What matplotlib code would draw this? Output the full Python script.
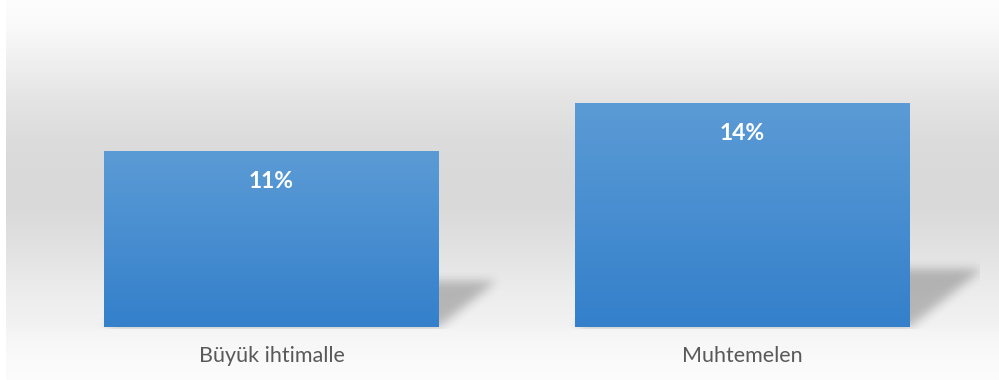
import numpy as np
import matplotlib.pyplot as plt
from matplotlib.colors import LinearSegmentedColormap

categories = ["Büyük ihtimalle", "Muhtemelen"]
values = [11, 14]

plt.rcParams['font.family'] = ['Lato', 'DejaVu Sans']

W, H = 999, 380
fig = plt.figure(figsize=(W / 100, H / 100), dpi=100)
fig.patch.set_facecolor('white')

# background: grey band fading to white top and bottom (pixel coords, origin bottom)
bg = fig.add_axes([0, 0, 1, 1], zorder=0)
bg.set_xlim(0, W)
bg.set_ylim(0, H)
bg.axis('off')
stops_y = np.array([0, 25, 60, 100, 140, 180, 210, 250, 290, 326, 332, 360, 380])
stops_v = np.array([253, 250, 240, 228, 220, 217, 218, 226, 236, 242, 245, 250, 252]) / 255
rows = np.interp(np.arange(H) + 0.5, stops_y, stops_v)[::-1]
grad = np.repeat(rows[:, None], 2, axis=1)
bg.imshow(np.dstack([grad, grad, grad]), extent=[6, W, 0, H], origin='lower',
          aspect='auto', interpolation='bilinear')

# main chart axes
base_px = 327
ax = fig.add_axes([0, (H - base_px) / H, 1, base_px / H], zorder=2)
ax.patch.set_alpha(0)
ax.set_ylim(0, base_px / 16)
x = np.arange(len(categories))
ax.set_xlim(-0.5764, 1.5446)
bars = ax.bar(x, values, width=0.711, color='none', edgecolor='none')

bar_cmap = LinearSegmentedColormap.from_list('barblue', ['#5b9bd5', '#3480cb'])
for b in bars:
    x0, y0 = b.get_x(), b.get_y()
    img = ax.imshow(np.linspace(0, 1, 100)[:, None], cmap=bar_cmap, aspect='auto',
                    extent=[x0, x0 + b.get_width(), y0, y0 + b.get_height()],
                    origin='upper', zorder=3)
    img.set_clip_path(b)

for xi, v in zip(x, values):
    ax.annotate(f"{v}%", (xi, v), xytext=(0, -22), textcoords='offset points',
                ha='center', va='center', color='white', fontsize=16.5,
                fontweight='bold', zorder=5)

ax.set_xticks(x)
ax.set_xticklabels(categories, fontsize=15.5, color='#595959')
ax.tick_params(axis='x', length=0, pad=14)
ax.set_yticks([])
for s in ax.spines.values():
    s.set_visible(False)

# soft perspective shadows behind each bar, built in pixel space
fig.canvas.draw()
X, Y = np.meshgrid(np.arange(W) + 0.5, np.arange(H) + 0.5)
mask = np.zeros((H, W))
for b in bars:
    (xl, yb), (xr, yt) = ax.transData.transform([[b.get_x(), 0],
                                                 [b.get_x() + b.get_width(), b.get_height()]])
    h = 0.26 * (yt - yb)
    dx = 1.25 * h
    t = (Y - yb) / h
    inside = (t >= 0) & (t <= 1) & (X >= xl + dx * t) & (X <= xr + dx * t)
    mask[inside] = 1.0

def blur(a, sigma):
    r = int(3 * sigma)
    k = np.exp(-0.5 * (np.arange(-r, r + 1) / sigma) ** 2)
    k /= k.sum()
    a = np.apply_along_axis(lambda m: np.convolve(m, k, mode='same'), 0, a)
    return np.apply_along_axis(lambda m: np.convolve(m, k, mode='same'), 1, a)

mask = blur(mask, 5)
mask[:, 980:] = 0
mask[Y < (H - base_px) - 2] = 0
shadow = np.zeros((H, W, 4))
shadow[..., 3] = mask * 0.24
bg.imshow(shadow, extent=[0, W, 0, H], origin='lower', aspect='auto', zorder=1)

fig.savefig('out.png', dpi=100)
